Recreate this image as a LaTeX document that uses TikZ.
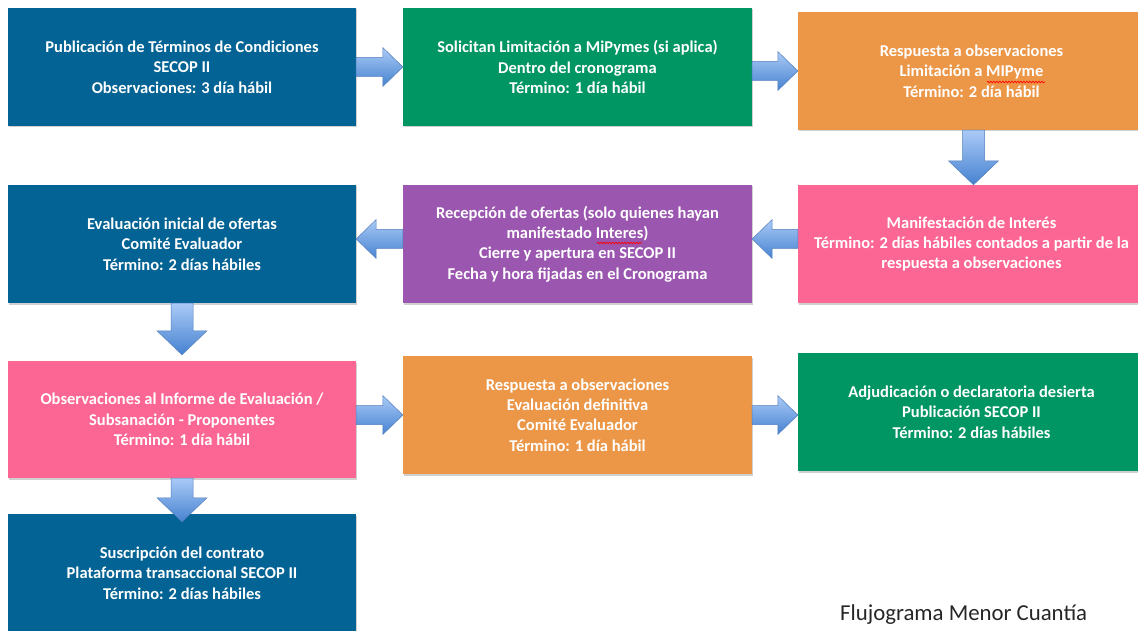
\documentclass[tikz,border=0pt]{standalone}
\usepackage{fontspec}
\setmainfont{Carlito}
\usetikzlibrary{calc,shadows,decorations.pathmorphing}
\definecolor{cblue}{RGB}{3,99,148}
\definecolor{cgreen}{RGB}{0,150,99}
\definecolor{corange}{RGB}{236,151,72}
\definecolor{cpink}{RGB}{252,102,148}
\definecolor{cpurple}{RGB}{155,86,176}
\definecolor{arrtop}{RGB}{170,202,247}
\definecolor{arrbot}{RGB}{70,130,208}
\definecolor{arredge}{RGB}{82,126,190}
\tikzset{
  box/.style={rectangle, inner sep=0pt, text=white,
    font=\bfseries\fontsize{16.5}{20.3}\selectfont, align=center,
    drop shadow={shadow xshift=1pt, shadow yshift=-1.5pt, opacity=0.3, fill=black!60}},
  barrow/.style={top color=arrtop, bottom color=arrbot, draw=arredge, line width=0.5pt, line join=miter},
  squiggle/.style={red, line width=0.7pt, decorate, decoration={snake, amplitude=0.8pt, segment length=3pt}}
}
\newcommand\rarrow[2]{\path[barrow] let \p1=#1, \p2=#2 in
  (\x1,{\y1-9.5pt}) -- ({\x2-20pt},{\y1-9.5pt}) -- ({\x2-20pt},{\y1-19.5pt}) -- (\x2,\y1)
  -- ({\x2-20pt},{\y1+19.5pt}) -- ({\x2-20pt},{\y1+9.5pt}) -- (\x1,{\y1+9.5pt}) -- cycle;}
\newcommand\larrow[2]{\path[barrow] let \p1=#1, \p2=#2 in
  (\x1,{\y1-9.5pt}) -- ({\x2+20pt},{\y1-9.5pt}) -- ({\x2+20pt},{\y1-19.5pt}) -- (\x2,\y1)
  -- ({\x2+20pt},{\y1+19.5pt}) -- ({\x2+20pt},{\y1+9.5pt}) -- (\x1,{\y1+9.5pt}) -- cycle;}
\newcommand\darrow[2]{\path[barrow] let \p1=#1, \p2=#2 in
  ({\x1-11pt},\y1) -- ({\x1-11pt},{\y2+24pt}) -- ({\x1-25pt},{\y2+24pt}) -- (\x1,\y2)
  -- ({\x1+25pt},{\y2+24pt}) -- ({\x1+11pt},{\y2+24pt}) -- ({\x1+11pt},\y1) -- cycle;}
\begin{document}
\begin{tikzpicture}[x=1pt,y=-1pt]
\useasboundingbox (0,0) rectangle (1138,631);
\fill[white] (0,0) rectangle (1138,631);
% row 1
\node[box, fill=cblue, minimum width=348pt, minimum height=118pt] (b1) at (182,67)
  {Publicación de Términos de Condiciones\\SECOP II\\Observaciones: 3 día hábil};
\node[box, fill=cgreen, minimum width=349pt, minimum height=118pt] (b2) at (577.5,67)
  {Solicitan Limitación a MiPymes (si aplica)\\Dentro del cronograma\\Término: 1 día hábil};
\node[box, fill=corange, minimum width=347pt, minimum height=118pt] (b3) at (971.5,71)
  {Respuesta a observaciones\\Limitación a MIPyme\\Término: 2 día hábil};
% row 2
\node[box, fill=cblue, minimum width=348pt, minimum height=118pt] (b4) at (182,244)
  {Evaluación inicial de ofertas\\Comité Evaluador\\Término: 2 días hábiles};
\node[box, fill=cpurple, minimum width=349pt, minimum height=118pt] (b5) at (577.5,244)
  {Recepción de ofertas (solo quienes hayan\\manifestado Interes)\\Cierre y apertura en SECOP II\\Fecha y hora fijadas en el Cronograma};
\node[box, fill=cpink, minimum width=347pt, minimum height=118pt] (b6) at (971.5,244)
  {Manifestación de Interés\\Término: 2 días hábiles contados a partir de la\\respuesta a observaciones};
% row 3
\node[box, fill=cpink, minimum width=348pt, minimum height=117pt] (b7) at (182,419.5)
  {Observaciones al Informe de Evaluación /\\Subsanación - Proponentes\\Término: 1 día hábil};
\node[box, fill=corange, minimum width=349pt, minimum height=118pt] (b8) at (577.5,415)
  {Respuesta a observaciones\\Evaluación definitiva\\Comité Evaluador\\Término: 1 día hábil};
\node[box, fill=cgreen, minimum width=347pt, minimum height=118pt] (b9) at (971.5,412)
  {Adjudicación o declaratoria desierta\\Publicación SECOP II\\Término: 2 días hábiles};
% row 4
\node[box, fill=cblue, minimum width=348pt, minimum height=118pt] (b10) at (182,573)
  {Suscripción del contrato\\Plataforma transaccional SECOP II\\Término: 2 días hábiles};
% spell-check marks
\draw[squiggle] (987,82) -- (1045,82);
\draw[squiggle] (597,243) -- (642,243);
% arrows
\rarrow{(b1.east)}{(b2.west)}
\rarrow{(b2.east |- b3.west)}{(b3.west)}
\darrow{([xshift=2pt]b3.south)}{([xshift=2pt]b6.north)}
\larrow{([yshift=5pt]b6.west)}{([yshift=5pt]b5.east)}
\larrow{([yshift=5pt]b5.west)}{([yshift=5pt]b4.east)}
\darrow{(b4.south)}{([yshift=6pt]b7.north)}
\rarrow{(b7.east |- b8.west)}{(b8.west)}
\rarrow{(b8.east)}{(b9.west)}
\darrow{(b7.south)}{([yshift=-8pt]b10.north)}
% title
\node[anchor=base west, inner sep=0pt, font=\fontsize{22.8}{27}\selectfont, text=black!85] (title) at (840,620) {Flujograma Menor Cuantía};
\end{tikzpicture}
\end{document}
